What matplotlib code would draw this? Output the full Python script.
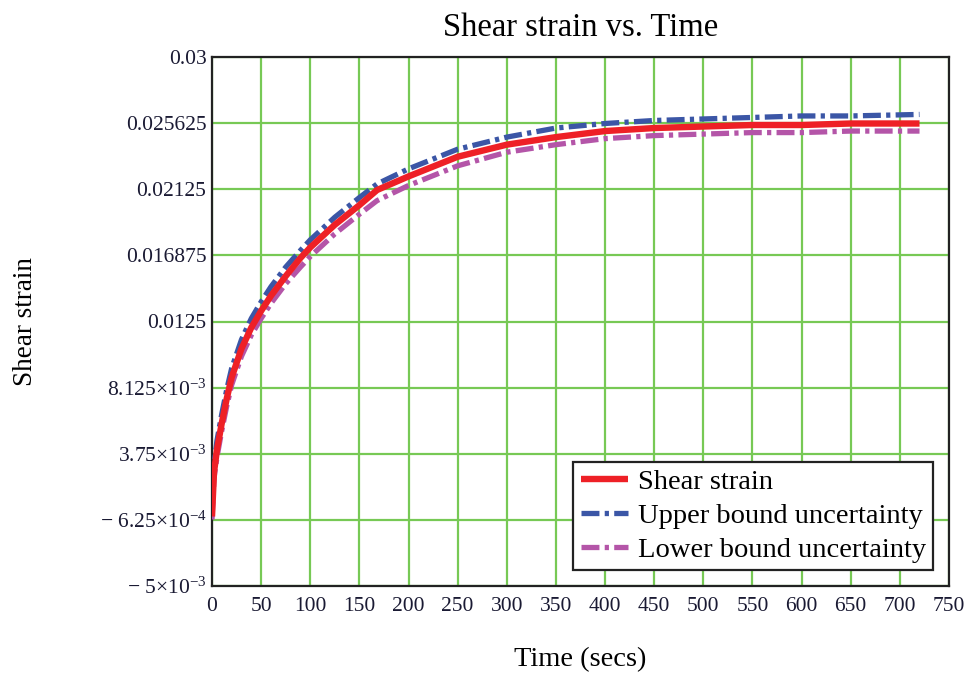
import matplotlib
matplotlib.use("Agg")
import matplotlib.pyplot as plt
from matplotlib.ticker import FixedLocator, FixedFormatter

plt.rcParams['font.family'] = ['Liberation Serif', 'DejaVu Serif']
plt.rcParams['mathtext.fontset'] = 'custom'
plt.rcParams['mathtext.rm'] = 'Liberation Serif'
plt.rcParams['mathtext.it'] = 'Liberation Serif'

# ---- data ----
time = [0, 2, 5, 10, 15, 20, 30, 40, 50, 60, 75, 90, 100, 125, 150, 168,
        200, 250, 300, 350, 400, 450, 500, 550, 600, 650, 720]
shear = [-0.0004, 0.0025, 0.0040, 0.0058, 0.0074, 0.0088, 0.0107, 0.0121,
         0.0132, 0.0142, 0.0155, 0.0167, 0.0174, 0.0189, 0.0202, 0.0212,
         0.0221, 0.0234, 0.0242, 0.0247, 0.0251, 0.0253, 0.0254, 0.0255,
         0.0255, 0.0256, 0.0256]
upper = [-0.0003, 0.0030, 0.0046, 0.0064, 0.0080, 0.0094, 0.0113, 0.0127,
         0.0138, 0.0148, 0.0161, 0.0172, 0.0179, 0.0194, 0.0207, 0.0216,
         0.0226, 0.0239, 0.0247, 0.0253, 0.0256, 0.0258, 0.0259, 0.0260,
         0.0261, 0.0261, 0.0262]
lower = [-0.0006, 0.0021, 0.0035, 0.0053, 0.0069, 0.0083, 0.0102, 0.0116,
         0.0127, 0.0137, 0.0150, 0.0161, 0.0168, 0.0183, 0.0196, 0.0205,
         0.0215, 0.0228, 0.0237, 0.0242, 0.0246, 0.0248, 0.0249, 0.0250,
         0.0250, 0.0251, 0.0251]

x_ticks = [0, 50, 100, 150, 200, 250, 300, 350, 400, 450, 500, 550, 600, 650, 700, 750]
y_ticks = [-0.005, -0.000625, 0.00375, 0.008125, 0.0125, 0.016875, 0.02125, 0.025625, 0.03]
y_tick_labels = [r'$-\ 5{\times}10^{-3}$', r'$-\ 6.25{\times}10^{-4}$',
                 r'$3.75{\times}10^{-3}$', r'$8.125{\times}10^{-3}$',
                 '0.0125', '0.016875', '0.02125', '0.025625', '0.03']

series_names = ['Shear strain', 'Upper bound uncertainty', 'Lower bound uncertainty']

# ---- figure ----
fig = plt.figure(figsize=(9.76, 6.77), dpi=100)
ax = fig.add_axes([212/976, 1-586/677, 737/976, (586-57)/677])

grid_color = '#77c955'
ax.set_xlim(0, 750)
ax.set_ylim(-0.005, 0.03)
ax.xaxis.set_major_locator(FixedLocator(x_ticks))
ax.yaxis.set_major_locator(FixedLocator(y_ticks))
ax.yaxis.set_major_formatter(FixedFormatter(y_tick_labels))
ax.grid(True, color=grid_color, linewidth=1.6)
ax.set_axisbelow(True)
for s in ax.spines.values():
    s.set_color('#222222')
    s.set_linewidth(1.6)
ax.tick_params(axis='both', length=0, labelsize=15.5, colors='#1a1a33')
ax.tick_params(axis='y', pad=4)
ax.tick_params(axis='x', pad=8)

dashdot = (0, (3.4, 1.0, 0.8, 1.0))
ax.plot(time, shear, color='#ee2026', linewidth=4.6, solid_capstyle='butt',
        label=series_names[0], zorder=4)
ax.plot(time, upper, color='#3b56a6', linewidth=3.8, linestyle=dashdot,
        label=series_names[1], zorder=3)
ax.plot(time, lower, color='#b455a8', linewidth=3.8, linestyle=dashdot,
        label=series_names[2], zorder=3)

ax.set_title('Shear strain vs. Time', fontsize=23.5, pad=15)
ax.set_xlabel('Time (secs)', fontsize=20.5, labelpad=22)
ax.set_ylabel('Shear strain', fontsize=19.5, labelpad=44)

leg = ax.legend(loc='lower right', bbox_to_anchor=(0.978, 0.030), fontsize=20.5,
                frameon=True, fancybox=False, framealpha=1, edgecolor='#222222',
                handlelength=1.65, handletextpad=0.35, borderpad=0.25,
                labelspacing=0.28, borderaxespad=0)
leg.get_frame().set_linewidth(1.6)

fig.savefig('out.png', dpi=100)
